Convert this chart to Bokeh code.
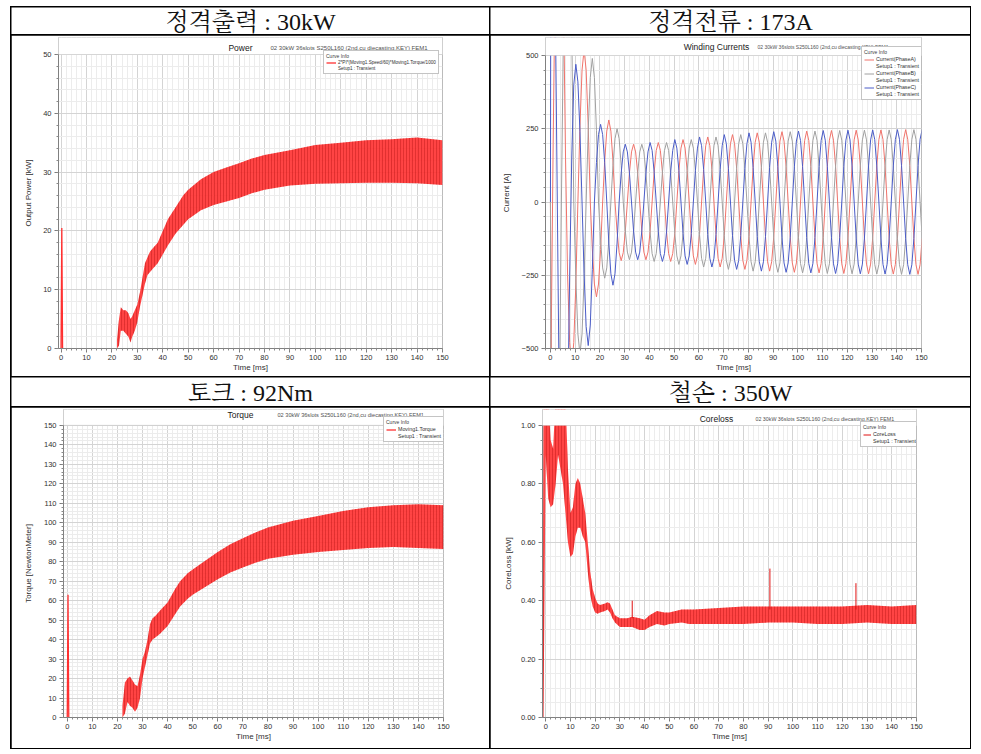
from bokeh.plotting import figure
from bokeh.layouts import row, column
from bokeh.models import (Label, Legend, LegendItem, SingleIntervalTicker, NumeralTickFormatter,
                          BoxAnnotation, Spacer)
from bokeh.embed import file_html
from bokeh.resources import INLINE

# ---------------- data ----------------
headers = ["정격출력 : 30kW", "정격전류 : 173A", "토크 : 92Nm", "철손 : 350W"]
subtitle = "02 30kW 36slots S250L160 (2nd,cu diecasting,KEY) FEM1"

# Output power [kW]: ripple envelope
pw_t = [22.0, 22.8, 23.5, 24.5, 25.5, 26.5, 27.3, 28.0, 29.0, 30.0, 31.0, 32.0, 33.0, 34.0, 35.0, 36.0,
        38.0, 40.0, 42.0, 45.0, 48.0, 50.0, 55.0, 60.0, 65.0, 70.0, 75.0, 80.0, 90.0, 100.0, 110.0,
        120.0, 130.0, 140.0, 150.0]
pw_lo = [0.0, 0.5, 3.0, 3.0, 2.5, 2.0, 1.0, 2.0, 3.0, 4.5, 7.0, 9.0, 11.0, 12.5, 13.0, 13.5,
         14.5, 16.0, 17.5, 19.5, 21.0, 22.0, 23.5, 24.4, 25.0, 25.6, 26.4, 27.0, 27.7, 28.0, 28.1,
         28.2, 28.2, 28.1, 27.8]
pw_hi = [1.5, 5.0, 7.0, 6.5, 6.5, 6.0, 5.0, 5.5, 6.5, 7.5, 9.5, 12.0, 14.5, 15.5, 16.5, 17.0,
         18.0, 20.0, 22.0, 24.0, 26.0, 27.0, 28.8, 30.0, 30.8, 31.5, 32.3, 32.9, 33.7, 34.6, 35.0,
         35.4, 35.6, 35.9, 35.4]
pw_spike_t = [0.0, 0.3, 0.6]
pw_spike_v = [0.0, 20.5, 0.0]

# Winding currents [A]
t_cur = [0.0,
         0.27, 1.10, 1.93, 2.77, 3.60, 4.43, 5.27, 6.10, 6.93, 7.77, 8.60, 9.43,
         10.27, 11.10, 11.93, 12.77, 13.60, 14.43, 15.27, 16.10, 16.93, 17.77, 18.60, 19.43,
         20.27, 21.10, 21.93, 22.77, 23.60, 24.43, 25.27, 26.10, 26.93, 27.77, 28.60, 29.43,
         30.27, 31.10, 31.93, 32.77, 33.60, 34.43, 35.27, 36.10, 36.93, 37.77, 38.60, 39.43,
         40.27, 41.10, 41.93, 42.77, 43.60, 44.43, 45.27, 46.10, 46.93, 47.77, 48.60, 49.43,
         50.27, 51.10, 51.93, 52.77, 53.60, 54.43, 55.27, 56.10, 56.93, 57.77, 58.60, 59.43,
         60.27, 61.10, 61.93, 62.77, 63.60, 64.43, 65.27, 66.10, 66.93, 67.77, 68.60, 69.43,
         70.27, 71.10, 71.93, 72.77, 73.60, 74.43, 75.27, 76.10, 76.93, 77.77, 78.60, 79.43,
         80.27, 81.10, 81.93, 82.77, 83.60, 84.43, 85.27, 86.10, 86.93, 87.77, 88.60, 89.43,
         90.27, 91.10, 91.93, 92.77, 93.60, 94.43, 95.27, 96.10, 96.93, 97.77, 98.60, 99.43,
         100.27, 101.10, 101.93, 102.77, 103.60, 104.43, 105.27, 106.10, 106.93, 107.77, 108.60, 109.43,
         110.27, 111.10, 111.93, 112.77, 113.60, 114.43, 115.27, 116.10, 116.93, 117.77, 118.60, 119.43,
         120.27, 121.10, 121.93, 122.77, 123.60, 124.43, 125.27, 126.10, 126.93, 127.77, 128.60, 129.43,
         130.27, 131.10, 131.93, 132.77, 133.60, 134.43, 135.27, 136.10, 136.93, 137.77, 138.60, 139.43,
         140.27, 141.10, 141.93, 142.77, 143.60, 144.43, 145.27, 146.10, 146.93, 147.77, 148.60, 149.43,
         150.27]
i_a = [0,
       -500, 200, 800, 1250, 1400, 1200, 700, 150, -250, -480, -560, -480,
       -280, 0, 260, 450, 520, 450, 260, 0, -160, -280, -324, -280,
       -162, 0, 140, 242, 280, 242, 140, 0, -100, -173, -200, -173,
       -99, 0, 99, 171, 197, 171, 99, 0, -99, -171, -197, -171,
       -102, 0, 102, 176, 203, 176, 102, 0, -102, -176, -203, -176,
       -107, 0, 107, 184, 213, 184, 107, 0, -107, -184, -213, -184,
       -111, 0, 111, 192, 222, 192, 111, 0, -111, -192, -222, -192,
       -115, 0, 115, 199, 230, 199, 115, 0, -115, -199, -230, -199,
       -118, 0, 118, 204, 236, 204, 118, 0, -118, -204, -236, -204,
       -120, 0, 120, 208, 240, 208, 120, 0, -120, -208, -240, -208,
       -121, 0, 121, 210, 242, 210, 121, 0, -121, -210, -242, -210,
       -122, 0, 122, 211, 244, 211, 122, 0, -122, -211, -244, -211,
       -123, 0, 123, 212, 245, 212, 123, 0, -123, -212, -245, -212,
       -123, 0, 123, 213, 246, 213, 123, 0, -123, -213, -246, -213,
       -124, 0, 124, 214, 247, 214, 124, 0, -124, -214, -247, -214,
       -124]
i_b = [0,
       -800, -1200, -1400, -1200, -700, 0, 600, 1050, 1200, 1000, 600, 0,
       -260, -450, -520, -450, -260, 0, 245, 425, 490, 425, 245, 0,
       -130, -225, -260, -225, -130, 0, 125, 216, 250, 216, 125, 0,
       -99, -171, -197, -171, -99, 0, 99, 171, 197, 171, 99, 0,
       -102, -176, -203, -176, -102, 0, 102, 176, 203, 176, 102, 0,
       -107, -184, -213, -184, -107, 0, 107, 184, 213, 184, 107, 0,
       -111, -192, -222, -192, -111, 0, 111, 192, 222, 192, 111, 0,
       -115, -199, -230, -199, -115, 0, 115, 199, 230, 199, 115, 0,
       -118, -204, -236, -204, -118, 0, 118, 204, 236, 204, 118, 0,
       -120, -208, -240, -208, -120, 0, 120, 208, 240, 208, 120, 0,
       -121, -210, -242, -210, -121, 0, 121, 210, 242, 210, 121, 0,
       -122, -211, -244, -211, -122, 0, 122, 211, 244, 211, 122, 0,
       -123, -212, -245, -212, -123, 0, 123, 212, 245, 212, 123, 0,
       -123, -213, -246, -213, -123, 0, 123, 213, 246, 213, 123, 0,
       -124, -214, -247, -214, -124, 0, 124, 214, 247, 214, 124, 0,
       -124]
i_c = [0,
       1400, 1200, 700, 0, -700, -1200, -1400, -1200, -750, -250, 150, 400,
       470, 410, 240, 0, -245, -425, -490, -420, -230, 0, 135, 230,
       265, 230, 135, 0, -140, -245, -284, -245, -140, 0, 99, 171,
       197, 171, 99, 0, -99, -171, -197, -171, -99, 0, 99, 171,
       203, 176, 102, 0, -102, -176, -203, -176, -102, 0, 102, 176,
       213, 184, 107, 0, -107, -184, -213, -184, -107, 0, 107, 184,
       222, 192, 111, 0, -111, -192, -222, -192, -111, 0, 111, 192,
       230, 199, 115, 0, -115, -199, -230, -199, -115, 0, 115, 199,
       236, 204, 118, 0, -118, -204, -236, -204, -118, 0, 118, 204,
       240, 208, 120, 0, -120, -208, -240, -208, -120, 0, 120, 208,
       242, 210, 121, 0, -121, -210, -242, -210, -121, 0, 121, 210,
       244, 211, 122, 0, -122, -211, -244, -211, -122, 0, 122, 211,
       245, 212, 123, 0, -123, -212, -245, -212, -123, 0, 123, 212,
       246, 213, 123, 0, -123, -213, -246, -213, -123, 0, 123, 213,
       247, 214, 124, 0, -124, -214, -247, -214, -124, 0, 124, 214,
       247]

# Torque [NewtonMeter]: ripple envelope
tq_t = [22.0, 23.0, 24.0, 25.0, 26.0, 27.0, 28.0, 29.0, 30.0, 31.0, 32.0, 33.0, 34.0, 35.0, 37.0,
        40.0, 43.0, 45.0, 48.0, 50.0, 55.0, 60.0, 65.0, 70.0, 75.0, 80.0, 90.0, 100.0, 110.0,
        120.0, 130.0, 140.0, 150.0]
tq_lo = [0.0, 2.0, 8.0, 6.0, 5.0, 3.0, 5.0, 10.0, 20.0, 26.0, 32.0, 38.0, 40.0, 41.0, 43.0,
         47.0, 53.0, 57.0, 61.0, 63.0, 67.0, 71.0, 74.5, 77.0, 79.5, 81.5, 83.5, 85.0, 86.0,
         87.0, 87.5, 87.0, 86.5]
tq_hi = [6.0, 18.0, 20.0, 21.0, 19.0, 17.0, 16.0, 22.0, 30.0, 34.0, 40.0, 48.0, 51.0, 52.0, 55.0,
         59.0, 66.0, 70.0, 74.0, 76.0, 80.5, 85.0, 89.0, 92.0, 95.0, 97.5, 101.0, 103.5, 106.0,
         108.0, 109.0, 109.5, 109.0]
tq_spike_t = [0.0, 0.3, 0.6]
tq_spike_v = [0.0, 63.0, 0.0]

# Core loss [kW]: ripple envelope
cl_t = [-1.2, -0.9, 0.0, 1.0, 2.0, 3.0, 4.0, 5.0, 6.0, 7.0, 8.0, 9.0, 10.0, 11.0, 12.0, 13.0, 14.0,
        15.0, 16.0, 17.0, 18.0, 19.0, 20.0, 21.0, 22.0, 24.0, 25.0, 26.0, 27.0, 28.0, 30.0, 33.0,
        35.0, 38.0, 40.0, 42.0, 45.0, 48.0, 50.0, 55.0, 58.0, 60.0, 70.0, 80.0, 90.0, 100.0,
        110.0, 120.0, 130.0, 140.0, 150.0]
cl_lo = [0.0, 0.0, 0.9, 0.75, 0.72, 0.73, 0.8, 0.9, 0.85, 0.8, 0.7, 0.6, 0.55, 0.56, 0.62, 0.65,
         0.65, 0.62, 0.6, 0.5, 0.42, 0.38, 0.36, 0.355, 0.36, 0.365, 0.37, 0.36, 0.34, 0.325, 0.31,
         0.31, 0.31, 0.3, 0.3, 0.31, 0.32, 0.315, 0.32, 0.325, 0.32, 0.32, 0.32, 0.32, 0.325,
         0.325, 0.32, 0.32, 0.325, 0.32, 0.32]
cl_hi = [0.02, 1.05, 1.1, 1.1, 0.95, 0.92, 1.1, 1.1, 1.1, 1.1, 1.1, 0.85, 0.7, 0.72, 0.8, 0.82,
         0.8, 0.75, 0.7, 0.6, 0.5, 0.44, 0.41, 0.39, 0.385, 0.39, 0.395, 0.39, 0.37, 0.35, 0.34,
         0.34, 0.345, 0.34, 0.335, 0.35, 0.365, 0.36, 0.36, 0.37, 0.37, 0.37, 0.375, 0.38,
         0.38, 0.38, 0.38, 0.38, 0.385, 0.38, 0.385]
cl_spike_t = [35.0, 90.7, 125.5]
cl_spike_base = [0.34, 0.37, 0.37]
cl_spike_top = [0.40, 0.51, 0.46]

# ---------------- styling helpers ----------------
FONT = "Liberation Sans"
HEAD_FONT = "'Liberation Serif', 'Noto Serif CJK KR', 'Noto Sans CJK KR'"
RED = "#ff3030"


def header_fig(w, h, text):
    f = figure(width=w, height=h, toolbar_location=None, output_backend="svg",
               min_border=0, x_axis_type=None, y_axis_type=None, x_range=(0, 1), y_range=(0, 1))
    f.outline_line_color = None
    f.background_fill_color = "white"
    f.border_fill_color = "white"
    f.add_layout(Label(x=w / 2, y=h / 2 - 1, x_units="screen", y_units="screen", text=text,
                       text_align="center", text_baseline="middle", text_font=HEAD_FONT,
                       text_font_size="24px", text_color="#111111"))
    return f


def make_plot(w, h, bl, fw, dt, db, xr, y0, y1, ymaj, yminor, ylab, ylab_stand,
              title, title_x, title_dy, sub_x, sub_size, fmt=None):
    # frame spans from 2px below the cell top down to the x axis; the top strip holds the titles
    ytop = y1 + (dt - 2) * (y1 - y0) / (db - dt)
    p = figure(width=w, height=h, x_range=xr, y_range=(y0, ytop), toolbar_location=None,
               output_backend="svg", min_border_left=bl, min_border_top=2,
               min_border_right=w - bl - fw, min_border_bottom=h - db)
    p.background_fill_color = "white"
    p.border_fill_color = "white"
    p.outline_line_color = None
    p.xaxis.ticker = SingleIntervalTicker(interval=10, num_minor_ticks=5)
    p.yaxis.ticker = SingleIntervalTicker(interval=ymaj, num_minor_ticks=yminor)
    p.yaxis.bounds = (y0, y1)
    if fmt:
        p.yaxis.formatter = NumeralTickFormatter(format=fmt)
    for ax in (p.xaxis[0], p.yaxis[0]):
        ax.axis_line_color = "#7a7a7a"
        ax.major_tick_line_color = "#7a7a7a"
        ax.minor_tick_line_color = "#8a8a8a"
        ax.major_tick_out = 4
        ax.major_tick_in = 0
        ax.minor_tick_out = 2
        ax.minor_tick_in = 0
        ax.major_label_text_font = FONT
        ax.major_label_text_font_size = "7.5px"
        ax.major_label_text_color = "#303030"
        ax.axis_label_text_font = FONT
        ax.axis_label_text_font_size = "8px"
        ax.axis_label_text_font_style = "normal"
        ax.axis_label_text_color = "#303030"
    p.xaxis.axis_label = "Time [ms]"
    p.yaxis.axis_label = ylab
    p.xaxis.major_label_standoff = 2
    p.xaxis.axis_label_standoff = 0
    p.yaxis.major_label_standoff = 3
    p.yaxis.axis_label_standoff = ylab_stand
    p.xgrid.grid_line_color = "#d4d4d4"
    p.ygrid.grid_line_color = "#d4d4d4"
    p.xgrid.minor_grid_line_color = "#ececec"
    p.ygrid.minor_grid_line_color = "#ececec"
    hd = db - dt
    p.add_layout(BoxAnnotation(bottom=y1, top=ytop * 1.5 if ytop > 0 else None,
                               fill_color="white", fill_alpha=1, line_color=None))
    p.add_layout(BoxAnnotation(top=y1, fill_alpha=0, line_color="#a8a8a8", line_width=1))
    p.add_layout(Label(x=title_x, y=hd + title_dy, x_units="screen", y_units="screen", text=title,
                       text_align="center", text_baseline="middle", text_font=FONT,
                       text_font_size="8.5px", text_color="#202020"))
    p.add_layout(Label(x=sub_x, y=hd + title_dy, x_units="screen", y_units="screen", text=subtitle,
                       text_align="left", text_baseline="middle", text_font=FONT,
                       text_font_size=sub_size, text_color="#505050"))
    return p


def add_legend(p, entries, loc, fs="5.3px", gw=10):
    items = []
    for label, rend in entries:
        items.append(LegendItem(label=label, renderers=[rend]))
        dummy = p.line([], [], line_alpha=0)
        items.append(LegendItem(label="Setup1 : Transient", renderers=[dummy]))
    lg = Legend(items=items, location=loc, title="Curve Info",
                title_text_font=FONT, title_text_font_size="5px", title_text_font_style="normal",
                title_text_color="#404040", title_standoff=1,
                label_text_font=FONT, label_text_font_size=fs, label_text_color="#303030",
                label_height=5, glyph_height=5, glyph_width=gw, label_standoff=2,
                spacing=1, padding=2, margin=0,
                border_line_color="#8a8a8a", border_line_width=1,
                background_fill_color="white", background_fill_alpha=1)
    p.add_layout(lg)


def ripple_band(p, t, lo, hi):
    p.varea(x=t, y1=lo, y2=hi, fill_color=RED, fill_alpha=0.9,
            hatch_pattern="|", hatch_color="#9a0000", hatch_alpha=0.5,
            hatch_weight=0.6, hatch_scale=3)


W_L, W_R = 478, 480
H_H1, H_H2, H_P = 27, 29, 341

# ---------------- Power ----------------
p1 = make_plot(W_L, H_P, 47, 384, 19, 313, (-1, 150), 0, 50, 10, 5, "Output Power [kW]", 7,
               "Power", 182, 7, 212, "6px")
ripple_band(p1, pw_t, pw_lo, pw_hi)
r1 = p1.line(pw_spike_t, pw_spike_v, line_color=RED, line_width=1.3)
add_legend(p1, [("2*PI*(Moving1.Speed/60)*Moving1.Torque/1000", r1)], (265, 274), fs="4.6px")

# ---------------- Currents ----------------
p2 = make_plot(W_R, H_P, 55, 376, 20, 313, (-2, 150), -500, 500, 250, 5, "Current [A]", 8,
               "Winding Currents", 171, 9, 212, "5px")
ra = p2.line(t_cur, i_a, line_color="#f0736b", line_width=1.0)
rb = p2.line(t_cur, i_b, line_color="#a0a0a0", line_width=1.0)
rc = p2.line(t_cur, i_c, line_color="#4a5cc8", line_width=1.0)
add_legend(p2, [("Current(PhaseA)", ra), ("Current(PhaseB)", rb), ("Current(PhaseC)", rc)], (316, 248))

# ---------------- Torque ----------------
p3 = make_plot(W_L, H_P, 52, 380, 18, 313, (-1.5, 150), 0, 150, 10, 5, "Torque [NewtonMeter]", 8,
               "Torque", 177, 8, 214, "5.6px")
ripple_band(p3, tq_t, tq_lo, tq_hi)
r3 = p3.line(tq_spike_t, tq_spike_v, line_color=RED, line_width=1.3)
add_legend(p3, [("Moving1.Torque", r3)], (320, 275))

# ---------------- Core loss ----------------
p4 = make_plot(W_R, H_P, 52, 374, 18, 310, (-1.3, 150), 0, 1, 0.2, 4, "CoreLoss [kW]", 5,
               "Coreloss", 174, 7, 213, "5.3px", fmt="0.00")
ripple_band(p4, cl_t, cl_lo, cl_hi)
r4 = p4.segment(x0=cl_spike_t, y0=cl_spike_base, x1=cl_spike_t, y1=cl_spike_top,
                line_color="#e01010", line_width=1)
add_legend(p4, [("CoreLoss", r4)], (318, 270), gw=8)

# ---------------- table layout ----------------
h1 = header_fig(W_L, H_H1, headers[0])
h2 = header_fig(W_R, H_H1, headers[1])
h3 = header_fig(W_L, H_H2, headers[2])
h4 = header_fig(W_R, H_H2, headers[3])
TW = W_L + W_R + 3


def trow(a, b, hgt):
    return row(Spacer(width=0, height=hgt), a, b, Spacer(width=0, height=hgt), spacing=1)


table = column(Spacer(width=TW, height=0),
               trow(h1, h2, H_H1), trow(p1, p2, H_P), trow(h3, h4, H_H2), trow(p3, p4, H_P),
               Spacer(width=TW, height=0),
               spacing=1, styles={"background-color": "black"})

page = column(Spacer(width=10, height=6), row(Spacer(width=10, height=10), table))

open("out.html", "w").write(file_html(page, INLINE))
